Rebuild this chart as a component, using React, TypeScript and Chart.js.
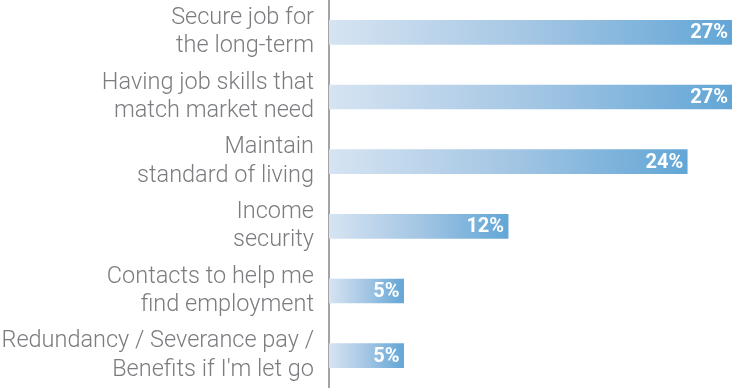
import React, { useEffect, useRef } from "react";
import { Chart, registerables } from "chart.js";

Chart.register(...registerables);

const categories: string[][] = [
  ["Secure job for", "the long-term"],
  ["Having job skills that", "match market need"],
  ["Maintain", "standard of living"],
  ["Income", "security"],
  ["Contacts to help me", "find employment"],
  ["Redundancy / Severance pay /", "Benefits if I'm let go"],
];
const values: number[] = [27, 27, 24, 12, 5, 5];
const valueLabels: string[] = ["27%", "27%", "24%", "12%", "5%", "5%"];

const LABEL_FONT = "Roboto, 'DejaVu Sans', sans-serif";

export default function App() {
  const ref = useRef<HTMLCanvasElement | null>(null);

  useEffect(() => {
    if (!ref.current) return;
    const valuePlugin = {
      id: "valueLabels",
      afterDatasetsDraw(chart: any) {
        const ctx = chart.ctx;
        const meta = chart.getDatasetMeta(0);
        ctx.save();
        ctx.fillStyle = "#ffffff";
        ctx.font = `bold 20px ${LABEL_FONT}`;
        ctx.textAlign = "right";
        ctx.textBaseline = "middle";
        meta.data.forEach((bar: any, i: number) => {
          ctx.fillText(valueLabels[i], bar.x - 4, bar.y + 1);
        });
        ctx.restore();
      },
    };

    const chart = new Chart(ref.current, {
      type: "bar",
      data: {
        labels: categories,
        datasets: [
          {
            data: values,
            barThickness: 24,
            borderWidth: 0,
            backgroundColor: (c: any) => {
              const ch = c.chart;
              const xs = ch.scales?.x;
              if (!ch.chartArea || !xs || c.raw == null) return "#9ec2e3";
              const x0 = xs.getPixelForValue(0);
              const x1 = xs.getPixelForValue(c.raw);
              const g = ch.ctx.createLinearGradient(x0, 0, x1, 0);
              g.addColorStop(0, "#d6e4f2");
              g.addColorStop(0.5, "#a4c6e4");
              g.addColorStop(1, "#62a6d6");
              return g;
            },
          },
        ],
      },
      options: {
        indexAxis: "y",
        responsive: true,
        maintainAspectRatio: false,
        animation: false,
        layout: { padding: 0 },
        plugins: {
          legend: { display: false },
          tooltip: { enabled: false },
        },
        scales: {
          x: {
            display: false,
            min: 0,
            max: 27,
          },
          y: {
            z: 1,
            afterFit: (scale: any) => {
              scale.width = 329;
              scale.paddingTop = 0;
              scale.paddingBottom = 0;
            },
            grid: { display: false, drawTicks: false },
            border: { display: true, color: "#a3a3a5", width: 2 },
            ticks: {
              color: "#7a7c7f",
              padding: 15,
              font: { family: LABEL_FONT, size: 23.5, weight: "300", lineHeight: 1.2 },
            },
          },
        },
      },
      plugins: [valuePlugin],
    });
    return () => chart.destroy();
  }, []);

  return (
    <div style={{ position: "absolute", left: 0, top: 0, width: 732, height: 388 }}>
      <canvas ref={ref} />
    </div>
  );
}
